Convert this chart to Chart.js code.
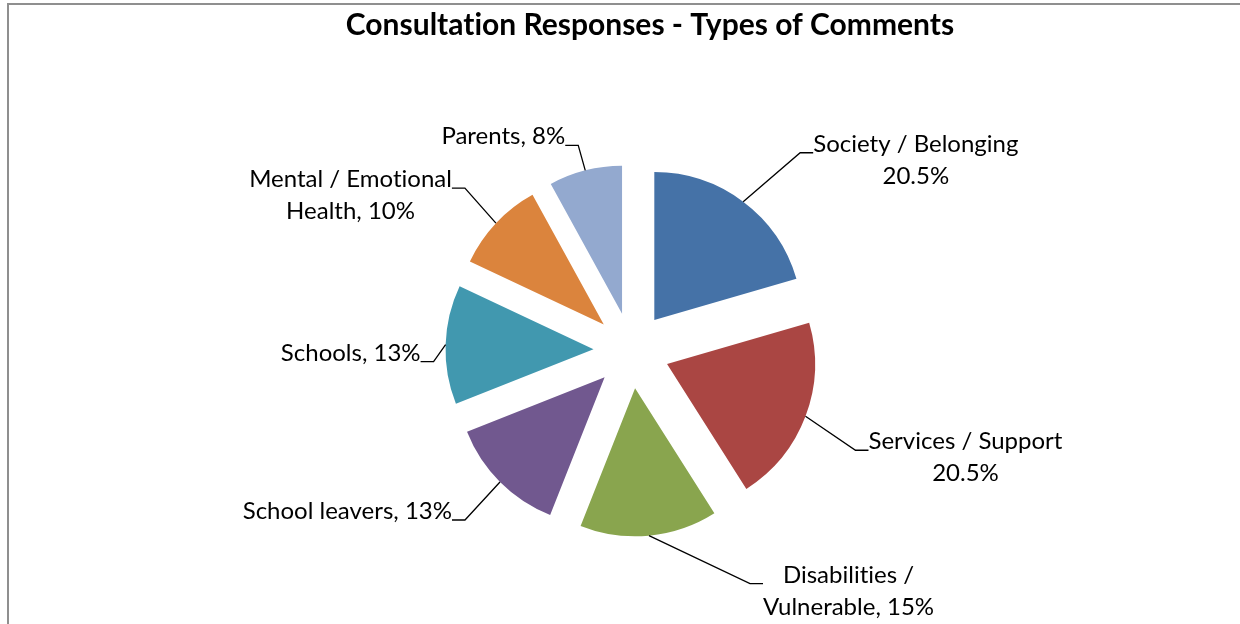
<!DOCTYPE html>
<html lang="en">
<head>
<meta charset="UTF-8">
<title>Consultation Responses - Types of Comments</title>
<script src="https://cdn.jsdelivr.net/npm/chart.js"></script>
<style>
  body { margin: 0; background: #fff; }
  .wrap { position: relative; width: 1240px; height: 624px; overflow: hidden; }
  .frame { position: absolute; left: 7px; top: 3px; width: 1300px; height: 700px;
           border-left: 2px solid #8f8f8f; border-top: 2px solid #8f8f8f; }
  .wrap canvas { position: absolute; left: 0; top: 0; }
</style>
</head>
<body>
<div class="wrap">
  <div class="frame"></div>
  <canvas id="pieChart" width="1240" height="624"></canvas>
</div>

<script>
  const chartTitle = 'Consultation Responses - Types of Comments';
  const categories = ['Society / Belonging', 'Services / Support', 'Disabilities / Vulnerable',
                      'School leavers', 'Schools', 'Mental / Emotional Health', 'Parents'];
  const shares = [20.5, 20.5, 15, 13, 13, 10, 8];
  const labelText = [
    'Society / Belonging\n20.5%',
    'Services / Support\n20.5%',
    'Disabilities /\nVulnerable, 15%',
    'School leavers, 13%',
    'Schools, 13%',
    'Mental / Emotional\nHealth, 10%',
    'Parents, 8%'
  ];
  const sliceColors = ['#4572A7', '#AA4643', '#89A54E', '#71588F', '#4198AF', '#DB843D', '#93A9CF'];

  // where each leader line bends, relative to the slice edge
  const labelShift = [[57, -49], [50, 34], [101, 48], [-35, 38], [-12, 17], [-31, -35], [-7, -25]];

  const EXPLODE = 38;   // distance each slice is pulled out
  const LINE_H = 32;

  // draw each slice moved out along its middle angle (keeps radius equal, unlike `offset`)
  const explodePlugin = {
    id: 'explode',
    beforeDatasetDraw(chart, args) {
      const ctx = chart.ctx;
      args.meta.data.forEach(arc => {
        const mid = (arc.startAngle + arc.endAngle) / 2;
        ctx.save();
        ctx.translate(Math.cos(mid) * EXPLODE, Math.sin(mid) * EXPLODE);
        arc.draw(ctx);
        ctx.restore();
      });
      return false;
    }
  };

  const calloutPlugin = {
    id: 'callouts',
    afterDraw(chart) {
      const ctx = chart.ctx;
      const arcs = chart.getDatasetMeta(0).data;
      ctx.save();
      ctx.textRendering = 'optimizeSpeed';
      ctx.fillStyle = '#000';
      ctx.strokeStyle = '#000';
      ctx.lineWidth = 1.3;
      ctx.font = '24px Lato';
      ctx.textAlign = 'center';
      ctx.textBaseline = 'alphabetic';
      arcs.forEach((arc, i) => {
        const mid = (arc.startAngle + arc.endAngle) / 2;
        const r = arc.outerRadius + EXPLODE;
        const ax = arc.x + Math.cos(mid) * r;
        const ay = arc.y + Math.sin(mid) * r;
        const ex = ax + labelShift[i][0];
        const ey = ay + labelShift[i][1];
        const side = labelShift[i][0] >= 0 ? 1 : -1;
        const hx = ex + side * 13;
        ctx.beginPath();
        ctx.moveTo(ax, ay);
        ctx.lineTo(ex, ey);
        ctx.lineTo(hx, ey);
        ctx.stroke();

        const lines = labelText[i].split('\n');
        const w = Math.max(...lines.map(l => ctx.measureText(l).width));
        const cx = side > 0 ? hx + w / 2 : hx - w / 2;
        lines.forEach((l, k) => ctx.fillText(l, cx, ey - 1 + k * LINE_H));
      });

      ctx.font = 'bold 30px Lato';
      ctx.fillText(chartTitle, 650, 35);
      ctx.restore();
    }
  };

  Promise.all([document.fonts.load('24px Lato'), document.fonts.load('bold 30px Lato')])
    .catch(() => {})
    .then(() => {
      new Chart(document.getElementById('pieChart'), {
        type: 'pie',
        data: {
          labels: categories,
          datasets: [{
            data: shares,
            backgroundColor: sliceColors,
            borderWidth: 0
          }]
        },
        options: {
          responsive: false,
          animation: false,
          radius: 148,
          layout: { padding: { left: 23, top: 77, right: 0, bottom: 0 } },
          plugins: {
            legend: { display: false },
            tooltip: { enabled: false },
            title: { display: false }
          }
        },
        plugins: [explodePlugin, calloutPlugin]
      });
    });
</script>
</body>
</html>
